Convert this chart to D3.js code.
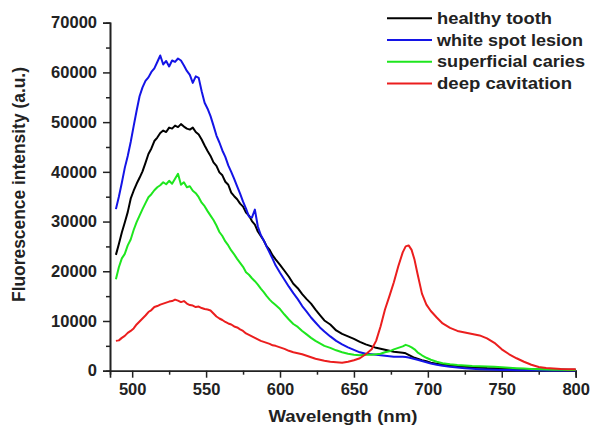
<!DOCTYPE html>
<html><head><meta charset="utf-8">
<script src="https://cdn.jsdelivr.net/npm/d3@7"></script>
<style>body{margin:0;background:#fff}svg{display:block}text{font-family:"Liberation Sans",Arial,sans-serif;font-weight:bold;fill:#222}</style>
</head><body><svg id="c" width="590" height="430"></svg>
<script>
const wavelength = [489,491,493,495,497,499,501,503,505,507,509,511,513,515,517,519,521,523,525,527,529,531,533,535,537,539,541,543,545,547,549,551,553,555,557,559,561,563,565,567,569,571,573,575,577,579,581,583,585,587,589,591,593,595,597,
600,603,606,609,612,615,618,621,624,627,630,634,638,642,646,650,654,658,662,665,668,671,674,677,680,683,685,687,689,691,693,696,699,702,706,710,
715,720,725,730,735,740,745,750,755,760,765,770,775,780,785,790,795,800];
const healthyTooth = [23300,25500,27800,29800,31900,34600,36200,37600,38800,40100,41800,43600,44700,46200,46900,47800,48300,48000,48900,48700,49300,49000,49600,49100,48700,48500,48900,48000,47500,46500,45300,44200,43200,41900,41200,39900,39300,38000,37400,35800,35100,34500,33600,33000,31800,31200,30100,29400,28000,27100,26200,25000,24300,23200,22400,
21300,20100,18900,17500,16600,15400,14400,13500,12300,11200,10100,9300,8100,7400,6900,6400,5800,5300,4900,4600,4400,4200,4000,3800,3700,3600,3500,3200,2900,2600,2400,2100,1900,1600,1400,1250,
1100,950,800,700,600,520,480,420,370,330,300,280,260,250,230,220,200,200];
const whiteSpotLesion = [32500,35000,37800,40800,43200,46000,49200,52300,55200,57000,58300,59000,60100,60800,62100,63400,61600,62300,61200,62400,62100,62800,62400,61400,60300,59500,57900,59200,58900,56200,53900,52700,51200,49300,47300,45900,44300,43000,41300,40000,38600,37100,35600,34000,32600,31000,30800,32400,29000,27300,26200,24900,23700,22500,21200,
19700,18300,16900,15600,14400,13000,11900,10700,9700,8700,7900,6900,6000,5300,4700,4200,3700,3400,3300,3200,3100,3000,2900,2800,2800,2800,2750,2650,2500,2350,2200,1950,1700,1450,1200,1000,
800,650,500,400,300,230,180,150,120,100,90,80,70,60,50,50,40,40];
const superficialCaries = [18400,20800,22600,23500,25200,26400,28300,29900,31200,32500,33700,34900,35500,36300,36900,37300,37900,37500,38200,37600,38600,39600,37400,37900,36900,37100,36200,35700,34900,33800,33100,32100,31200,30300,29200,27900,27100,26000,25200,24200,23400,22500,21700,20900,19800,19300,18600,18000,17300,16500,15800,15000,14300,13700,13200,
12400,11300,10300,9400,8800,8000,7300,6600,6000,5500,5000,4600,4100,3700,3400,3200,3100,3200,3200,3300,3400,3700,3900,4300,4600,4900,5200,5000,4700,4300,3700,3100,2600,2200,1800,1500,
1300,1150,1050,950,900,850,800,700,600,500,420,350,300,250,200,180,150,150];
const deepCavitation = [6000,6100,6600,7000,7600,8000,8500,9300,9900,10500,11100,11800,12200,12800,13000,13300,13500,13700,13900,14000,14300,14100,13800,14000,13500,13200,13100,12800,12900,12600,12400,12300,12100,11500,10900,10500,10200,9800,9500,9300,8900,8700,8300,8000,7500,7200,6900,6600,6300,6000,5800,5600,5400,5100,5000,
4700,4400,4000,3700,3500,3300,3000,2700,2400,2200,2000,1800,1700,1600,1800,2100,2500,3300,4300,6000,8900,12300,15000,17800,21000,23800,25000,25200,24300,22300,19500,15500,13300,12000,10700,9500,
8600,8000,7700,7400,7100,6500,5600,4300,3300,2500,1800,1200,750,550,450,350,300,280];
const seriesNames = ["healthy tooth","white spot lesion","superficial caries","deep cavitation"];
const seriesColors = ["#000000","#1414e6","#1ee61e","#eb1e1e"];
const xTicks = [500,550,600,650,700,750,800];
const yTicks = [0,10000,20000,30000,40000,50000,60000,70000];
const xLabel = "Wavelength (nm)";
const yLabel = "Fluorescence intensity (a.u.)";

const allSeries = [healthyTooth, whiteSpotLesion, superficialCaries, deepCavitation];
const svg = d3.select("#c");
const x = d3.scaleLinear().domain([485,800]).range([110,575.7]);
const y = d3.scaleLinear().domain([0,70000]).range([370.7,22.7]);

// minor ticks
const gxm = svg.append("g").attr("transform","translate(0,370.7)")
  .call(d3.axisBottom(x).tickValues(d3.range(525,800,50)).tickSize(4).tickFormat(""));
const gym = svg.append("g").attr("transform","translate(110,0)")
  .call(d3.axisLeft(y).tickValues(d3.range(5000,70000,10000)).tickSize(4).tickFormat(""));
const gx = svg.append("g").attr("transform","translate(0,370.7)")
  .call(d3.axisBottom(x).tickValues(xTicks).tickSize(7).tickPadding(5).tickFormat(d3.format("d")));
const gy = svg.append("g").attr("transform","translate(110,0)")
  .call(d3.axisLeft(y).tickValues(yTicks).tickSize(7).tickPadding(6).tickFormat(d3.format("d")));
[gxm,gym,gx,gy].forEach(g=>{
  g.selectAll(".domain").attr("stroke","#222").attr("stroke-width",1.6);
  g.selectAll(".tick line").attr("stroke","#222").attr("stroke-width",1.5);
  g.selectAll("text").attr("font-size",16.5).attr("font-family",null).attr("fill","#222");
});
gx.selectAll(".tick text").attr("dy","0.72em");

const line = d3.line().x((d,i)=>x(wavelength[i])).y(d=>y(d));
allSeries.forEach((s,k)=>{
  svg.append("path").datum(s).attr("d",line).attr("fill","none")
    .attr("stroke",seriesColors[k]).attr("stroke-width",2).attr("stroke-linejoin","round");
});

// legend
const legW = [115,146,148,135];
seriesNames.forEach((n,k)=>{
  const yy = 18.3 + k*21.7;
  svg.append("line").attr("x1",387).attr("x2",432).attr("y1",yy).attr("y2",yy)
    .attr("stroke",seriesColors[k]).attr("stroke-width",2);
  svg.append("text").attr("x",437).attr("y",yy+5.6).attr("font-size",16)
    .attr("textLength",legW[k]).attr("lengthAdjust","spacingAndGlyphs").text(n);
});

svg.append("text").attr("x",342.9).attr("y",421.5).attr("text-anchor","middle")
  .attr("font-size",16.5).attr("textLength",149).attr("lengthAdjust","spacingAndGlyphs").text(xLabel);
svg.append("text").attr("transform","translate(24.5,184.5) rotate(-90)").attr("text-anchor","middle")
  .attr("font-size",17.5).attr("textLength",235).attr("lengthAdjust","spacingAndGlyphs").text(yLabel);
</script></body></html>
